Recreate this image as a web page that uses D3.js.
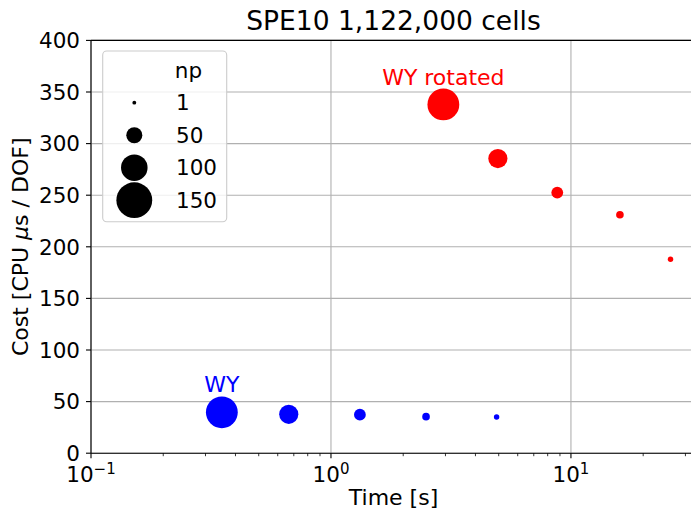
<!DOCTYPE html>
<html>
<head>
<meta charset="utf-8">
<title>SPE10 cost vs time</title>
<script src="https://cdn.jsdelivr.net/npm/d3@7"></script>
<style>
  body { margin: 0; background: #fff; }
  svg { font-family: "DejaVu Sans", sans-serif; }
</style>
</head>
<body>
<svg id="chart" width="691" height="515"></svg>
<script>
// data
var rotTime = [2.94, 4.96, 8.77, 16.0, 26.0];
var rotCost = [338, 285.5, 252.5, 231, 188];
var rotNp   = [128, 64, 32, 16, 8];

var wyTime = [0.351, 0.667, 1.32, 2.49, 4.9];
var wyCost = [39.6, 37.7, 37.3, 35.4, 35.1];
var wyNp   = [128, 64, 32, 16, 8];

var legendNp = [1, 50, 100, 150];
var yTicks = [0, 50, 100, 150, 200, 250, 300, 350, 400];
var xTicks = [0.1, 1, 10];
var xExp = ["\u22121", "0", "1"];

var svg = d3.select("#chart");
var pLeft = 91, pRight = 696, pTop = 40.4, pBottom = 453.2;

var x = d3.scaleLog().domain([0.1, 33.2]).range([pLeft, pRight]);
var y = d3.scaleLinear().domain([0, 400]).range([pBottom, pTop]);
// marker radius: area grows ~ np^1.5
var area = d3.scalePow().exponent(1.5).domain([0, 150]).range([0, 317]);
function rad(n) { return Math.sqrt(area(n) + 3.5); }

// grid
var minor = [];
[0.1, 1, 10].forEach(function(d) {
  for (var k = 2; k <= 9; k++) if (d * k <= 33.2) minor.push(d * k);
});
svg.append("g").selectAll("line").data(xTicks).enter().append("line")
  .attr("x1", function(d) { return x(d); }).attr("x2", function(d) { return x(d); })
  .attr("y1", pTop).attr("y2", pBottom)
  .attr("stroke", "#b0b0b0").attr("stroke-width", 1.1);
svg.append("g").selectAll("line").data(yTicks).enter().append("line")
  .attr("x1", pLeft).attr("x2", pRight)
  .attr("y1", function(d) { return y(d); }).attr("y2", function(d) { return y(d); })
  .attr("stroke", "#b0b0b0").attr("stroke-width", 1.1);

// spines
svg.append("line").attr("x1", pLeft).attr("x2", pLeft).attr("y1", pTop).attr("y2", pBottom)
  .attr("stroke", "#000").attr("stroke-width", 1.1);
svg.append("line").attr("x1", pLeft).attr("x2", pRight).attr("y1", pBottom).attr("y2", pBottom)
  .attr("stroke", "#000").attr("stroke-width", 1.1);
svg.append("line").attr("x1", pLeft).attr("x2", pRight).attr("y1", pTop).attr("y2", pTop)
  .attr("stroke", "#000").attr("stroke-width", 1.1);

// y ticks
var yt = svg.append("g");
yt.selectAll("line").data(yTicks).enter().append("line")
  .attr("x1", pLeft - 5).attr("x2", pLeft)
  .attr("y1", function(d) { return y(d); }).attr("y2", function(d) { return y(d); })
  .attr("stroke", "#000").attr("stroke-width", 1.1);
yt.selectAll("text").data(yTicks).enter().append("text")
  .attr("x", pLeft - 11).attr("y", function(d) { return y(d); })
  .attr("dy", "0.36em").attr("text-anchor", "end")
  .attr("font-size", 21.5).text(function(d) { return d; });

// x ticks
var xt = svg.append("g");
xt.selectAll("line.maj").data(xTicks).enter().append("line")
  .attr("x1", function(d) { return x(d); }).attr("x2", function(d) { return x(d); })
  .attr("y1", pBottom).attr("y2", pBottom + 5)
  .attr("stroke", "#000").attr("stroke-width", 1.1);
xt.selectAll("line.min").data(minor).enter().append("line")
  .attr("x1", function(d) { return x(d); }).attr("x2", function(d) { return x(d); })
  .attr("y1", pBottom).attr("y2", pBottom + 3)
  .attr("stroke", "#000").attr("stroke-width", 0.8);
var xl = xt.selectAll("text").data(xTicks).enter().append("text")
  .attr("x", function(d) { return x(d); }).attr("y", 481.7)
  .attr("text-anchor", "middle").attr("font-size", 21.5);
xl.append("tspan").text("10");
xl.append("tspan").attr("dy", -8).attr("font-size", 15)
  .text(function(d, i) { return xExp[i]; });

// axis labels and title
svg.append("text").attr("x", (pLeft + pRight) / 2).attr("y", 505)
  .attr("text-anchor", "middle").attr("font-size", 22).text("Time [s]");
var yl = svg.append("text").attr("transform", "translate(28," + ((pTop + pBottom) / 2) + ") rotate(-90)")
  .attr("text-anchor", "middle").attr("font-size", 22);
yl.append("tspan").text("Cost [CPU ");
yl.append("tspan").attr("font-style", "italic").text("\u03bc");
yl.append("tspan").text("s / DOF]");
svg.append("text").attr("x", (pLeft + pRight) / 2).attr("y", 30)
  .attr("text-anchor", "middle").attr("font-size", 26.5).text("SPE10 1,122,000 cells");

// points
var rot = rotTime.map(function(t, i) { return { t: t, c: rotCost[i], n: rotNp[i] }; });
var wy = wyTime.map(function(t, i) { return { t: t, c: wyCost[i], n: wyNp[i] }; });
svg.append("g").selectAll("circle").data(rot).enter().append("circle")
  .attr("cx", function(d) { return x(d.t); }).attr("cy", function(d) { return y(d.c); })
  .attr("r", function(d) { return rad(d.n); }).attr("fill", "#ff0000");
svg.append("g").selectAll("circle").data(wy).enter().append("circle")
  .attr("cx", function(d) { return x(d.t); }).attr("cy", function(d) { return y(d.c); })
  .attr("r", function(d) { return rad(d.n); }).attr("fill", "#0000ff");

svg.append("text").attr("x", x(rot[0].t)).attr("y", 85)
  .attr("text-anchor", "middle").attr("font-size", 22).attr("fill", "#ff0000").text("WY rotated");
svg.append("text").attr("x", x(wy[0].t)).attr("y", 392.3)
  .attr("text-anchor", "middle").attr("font-size", 22).attr("fill", "#0000ff").text("WY");

// legend
var lg = svg.append("g");
lg.append("rect").attr("x", 102.7).attr("y", 51).attr("width", 124).attr("height", 170.7)
  .attr("rx", 4).attr("fill", "#fff").attr("fill-opacity", 0.8)
  .attr("stroke", "#cccccc").attr("stroke-width", 1.1);
lg.append("text").attr("x", 188.5).attr("y", 78).attr("text-anchor", "middle")
  .attr("font-size", 21.5).text("np");
var ent = lg.selectAll("g").data(legendNp).enter().append("g")
  .attr("transform", function(d, i) { return "translate(0," + (102.7 + i * 32.5) + ")"; });
ent.append("circle").attr("cx", 134.3).attr("cy", 0)
  .attr("r", function(d) { return rad(d); }).attr("fill", "#000");
ent.append("text").attr("x", 176).attr("y", 0).attr("dy", "0.36em")
  .attr("font-size", 21.5).text(function(d) { return d; });
</script>
</body>
</html>
